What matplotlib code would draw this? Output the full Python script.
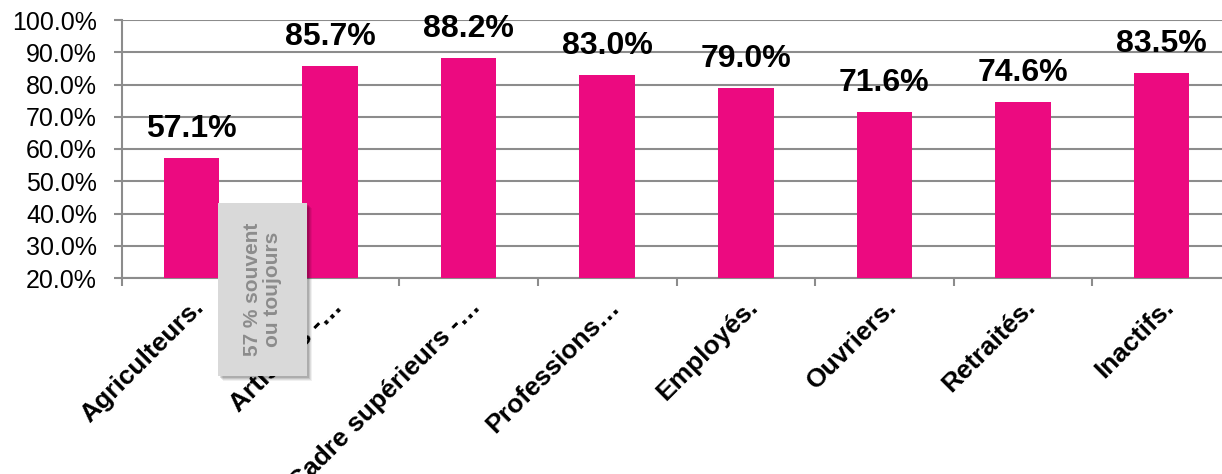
import matplotlib
matplotlib.use("Agg")
import matplotlib.pyplot as plt
import numpy as np
from matplotlib.patches import Rectangle
from matplotlib.ticker import FuncFormatter, MultipleLocator

plt.rcParams['font.family'] = ['Liberation Sans', 'DejaVu Sans']

# data
categories = ["Agriculteurs.", "Artisans -\u2026", "Cadre sup\u00e9rieurs -\u2026",
              "Professions\u2026", "Employ\u00e9s.", "Ouvriers.", "Retrait\u00e9s.",
              "Inactifs."]
values = [57.1, 85.7, 88.2, 83.0, 79.0, 71.6, 74.6, 83.5]
note = "57 % souvent\nou toujours"

bar_color = '#EC0A80'
grid_color = '#8C8C8C'

fig = plt.figure(figsize=(12.22, 4.74), dpi=100)
ax = fig.add_axes([122 / 1222, 1 - 278 / 474, 1109 / 1222, 258 / 474])

x = np.arange(len(categories))
bars = ax.bar(x, values, width=0.40, color=bar_color, zorder=3)

ax.set_xlim(-0.5, len(categories) - 0.5)
ax.set_ylim(20, 100)
ax.yaxis.set_major_locator(MultipleLocator(10))
ax.yaxis.set_major_formatter(FuncFormatter(lambda v, p: f"{v:.1f}%"))
ax.grid(axis='y', color=grid_color, linewidth=1.5, zorder=0)

for b, v in zip(bars, values):
    ax.annotate(f"{v:.1f}%", (b.get_x() + b.get_width() / 2, v),
                xytext=(0, 10), textcoords='offset points',
                ha='center', va='bottom', fontsize=23, fontweight='bold')

ax.set_xticks(x)
ax.set_xticklabels(categories, rotation=45, ha='right', va='top',
                   rotation_mode='anchor', fontsize=19, fontweight='bold')
ax.set_xticks(np.arange(-0.5, len(categories), 1), minor=True)
ax.tick_params(axis='x', which='major', length=0, pad=12)
ax.tick_params(axis='x', which='minor', length=6, width=1.5, color=grid_color)
ax.tick_params(axis='y', length=6, width=1.5, color=grid_color, pad=12,
               labelsize=18)

for s in ['top', 'right']:
    ax.spines[s].set_visible(False)
for s in ['left', 'bottom']:
    ax.spines[s].set_color(grid_color)
    ax.spines[s].set_linewidth(1.5)

# grey note box with a soft shadow
bx, by, bw, bh = 218 / 1222, 1 - 376 / 474, 89 / 1222, 173 / 474
for i, a in enumerate([0.06, 0.08, 0.10, 0.12]):
    off = (5 - i) / 1222
    fig.patches.append(Rectangle((bx + off, by - off * 1222 / 474), bw, bh,
                                 transform=fig.transFigure, color='black',
                                 alpha=a, zorder=5, lw=0))
fig.patches.append(Rectangle((bx, by), bw, bh, transform=fig.transFigure,
                             facecolor='#D9D9D9', edgecolor='none', zorder=6))
fig.text(bx + bw / 2, by + bh / 2, note, rotation=90, ha='center', va='center',
         multialignment='center', fontsize=15, fontweight='bold',
         color='#8C8C8C', linespacing=1.05, zorder=7)

fig.savefig('out.png', dpi=100)
